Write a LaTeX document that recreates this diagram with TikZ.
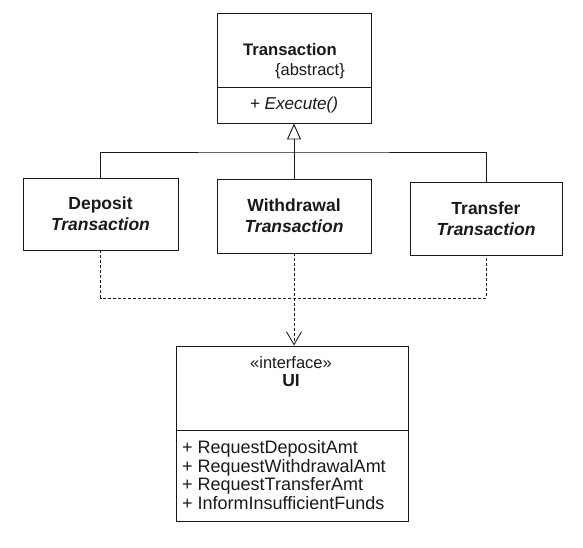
\documentclass[tikz,border=0pt]{standalone}
\usepackage{fontspec}
\setmainfont{Liberation Sans}
\usetikzlibrary{arrows.meta}
\definecolor{ink}{gray}{0.1}
\begin{document}
\begin{tikzpicture}[x=1pt,y=-1pt,
  umlbox/.style={draw=ink, line width=0.95pt, inner sep=0pt, align=center,
    text=ink, font=\fontsize{17.5}{21}\selectfont},
  lbl/.style={inner sep=0pt, text=ink, font=\fontsize{16.5}{20.5}\selectfont},
  oplbl/.style={inner sep=0pt, text=ink, anchor=base west, font=\fontsize{18}{20}\selectfont},
  genline/.style={draw=ink, line width=0.95pt},
  depline/.style={draw=ink, line width=0.85pt, dash pattern=on 3pt off 2pt}]
\useasboundingbox (0,0) rectangle (583,548);

% Transaction
\node[umlbox, minimum width=154pt, minimum height=74pt] (trans) at (294,50) {};
\node[lbl, font=\fontsize{16.7}{20.5}\selectfont\bfseries] (transname) at (290,50) {Transaction};
\node[lbl, anchor=east] (transabs) at (345,71) {\{abstract\}};
\node[umlbox, minimum width=154pt, minimum height=36pt, font=\fontsize{17.2}{20}\selectfont] (transops) at (294,105) {\itshape + Execute()};

% subclasses
\node[umlbox, minimum width=155pt, minimum height=72pt] (dep) at (100.5,214)
  {{\bfseries Deposit}\\{\bfseries\itshape Transaction}};
\node[umlbox, minimum width=154pt, minimum height=74pt] (wd) at (294,216)
  {{\bfseries Withdrawal}\\{\bfseries\itshape Transaction}};
\node[umlbox, minimum width=152pt, minimum height=73pt] (tf) at (486,218.5)
  {{\bfseries Transfer}\\{\bfseries\itshape Transaction}};

% UI interface
\node[umlbox, minimum width=232pt, minimum height=84pt] (ui) at (292,388) {};
\node[lbl] (uist) at (291,363) {«interface»};
\node[lbl, font=\fontsize{17.5}{20.5}\selectfont\bfseries] (uiname) at (291,381) {UI};
\node[umlbox, minimum width=232pt, minimum height=91pt] (uiops) at (292,475.5) {};
\node[oplbl] (m1) at (182,453) {+ RequestDepositAmt};
\node[oplbl] (m2) at (182,472) {+ RequestWithdrawalAmt};
\node[oplbl] (m3) at (182,490.5) {+ RequestTransferAmt};
\node[oplbl] (m4) at (182,509) {+ InformInsufficientFunds};

% generalization
\coordinate (gj) at (294,152);
\draw[genline, -{Triangle[open, length=16pt, width=14pt, line width=0.95pt]}] (wd.north) -- (transops.south);
\draw[genline] (dep.north) |- (gj) -| (tf.north);

% dependencies
\coordinate (dj) at (294,298);
\draw[depline] (dep.south) |- (dj) -| (tf.south);
\draw[depline, -{Straight Barb[length=13pt, width=15pt]}] (wd.south) -- (wd.south |- ui.north);
\end{tikzpicture}
\end{document}
